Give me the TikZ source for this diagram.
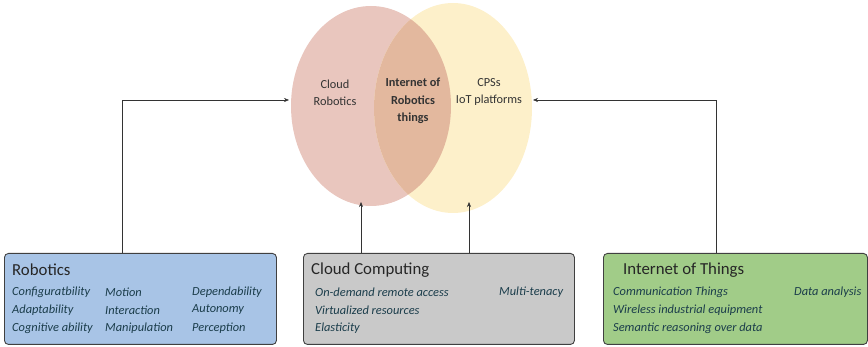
\documentclass[tikz,border=0pt]{standalone}
\usepackage{fontspec}
\setmainfont{Carlito}
\usetikzlibrary{shapes.geometric,arrows.meta}
\definecolor{robpink}{HTML}{E9C6BE}
\definecolor{iotyellow}{HTML}{FDF0CA}
\definecolor{mixorange}{HTML}{E3B89E}
\definecolor{robblue}{HTML}{A8C4E6}
\definecolor{ccgray}{HTML}{C9C9C9}
\definecolor{iotgreen}{HTML}{A1CC88}
\definecolor{itemtext}{HTML}{1B3D4B}
\tikzset{
  areabox/.style={draw=black!75,line width=0.9pt,rounded corners=4pt,anchor=north west,inner sep=0pt},
  boxtitle/.style={anchor=west,inner sep=0pt,font=\fontsize{16.8}{19}\selectfont,text=black!85},
  boxitem/.style={anchor=west,inner sep=0pt,font=\fontsize{12.4}{14}\selectfont\itshape,text=itemtext},
  vennlabel/.style={align=center,font=\fontsize{12.3}{17.5}\selectfont,text=black!80},
  arr/.style={-{Stealth[length=5pt,width=4pt]},draw=black!80,line width=0.5pt}
}
\begin{document}
\begin{tikzpicture}[x=1pt,y=-1pt]
        \useasboundingbox (0,0) rectangle (868,347);
        % the two sets and their overlap
        \node[ellipse,fill=robpink,minimum width=160pt,minimum height=200pt,inner sep=0pt](cr)at(371,106){};
        \node[ellipse,fill=iotyellow,minimum width=158pt,minimum height=210pt,inner sep=0pt](iotp)at(453,108){};
        \begin{scope}
            \clip(371,106)ellipse(80 and 100);
            \fill[mixorange](453,108)ellipse(79 and 105);
        \end{scope}
        \node[vennlabel](crtext)at(335,93){Cloud\\Robotics};
        \node[vennlabel,font=\fontsize{12.3}{17.5}\selectfont\bfseries](iortext)at(413,101){Internet of\\Robotics\\things};
        \node[vennlabel](iottext)at(489,92){CPSs\\IoT platforms};
        % the three fields
        \node[areabox,fill=robblue,minimum width=272pt,minimum height=91pt](rob)at(4,253){};
        \node[areabox,fill=ccgray,minimum width=271pt,minimum height=91pt](cc)at(303,253){};
        \node[areabox,fill=iotgreen,minimum width=264pt,minimum height=91pt](iot)at(603,253){};
        \node[boxtitle](robtitle)at(12,270){Robotics};
        \node[boxitem]at(12,292){Configuratbility};
        \node[boxitem]at(12,310){Adaptability};
        \node[boxitem]at(12,328){Cognitive ability};
        \node[boxitem]at(105,292){Motion};
        \node[boxitem]at(105,310){Interaction};
        \node[boxitem]at(105,328){Manipulation};
        \node[boxitem]at(192,292){Dependability};
        \node[boxitem]at(192,310){Autonomy};
        \node[boxitem]at(192,328){Perception};
        \node[boxtitle](cctitle)at(311,270){Cloud Computing};
        \node[boxitem]at(315,292){On-demand remote access};
        \node[boxitem]at(315,310){Virtualized resources};
        \node[boxitem]at(315,328){Elasticity};
        \node[boxitem]at(499,292){Multi-tenacy};
        \node[boxtitle](iottitle)at(623,270){Internet of Things};
        \node[boxitem]at(613,292){Communication Things};
        \node[boxitem]at(613,310){Wireless industrial equipment};
        \node[boxitem]at(613,328){Semantic reasoning over data};
        \node[boxitem]at(794,292){Data analysis};
        % links from the fields up to the sets
        \coordinate(crin)at(289,100);
        \coordinate(iotin)at(533,100);
        \coordinate(crbot)at(361,202);
        \coordinate(iotbot)at(469,202);
        \draw[arr]([xshift=-18pt]rob.north)|-(crin);
        \draw[arr]([xshift=-19pt]iot.north)|-(iotin);
        \draw[arr](cc.north -| crbot)--(crbot);
        \draw[arr](cc.north -| iotbot)--(iotbot);
    \end{tikzpicture}
\end{document}
